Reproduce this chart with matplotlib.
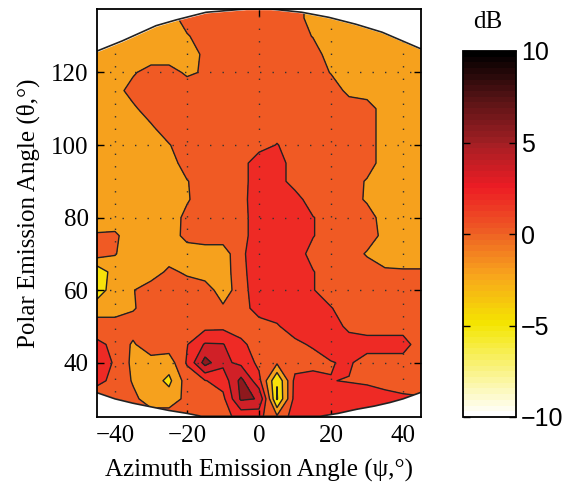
import numpy as np
import matplotlib
matplotlib.use("Agg")
import matplotlib.pyplot as plt
from matplotlib.colors import ListedColormap, LinearSegmentedColormap, Normalize
from matplotlib.cm import ScalarMappable

# grid of the measurement (degrees)
azimuth = [-45, -40, -35, -30, -25, -20, -15, -10, -5, 0, 5, 10, 15, 20, 25, 30, 35, 40, 45]
polar = [140, 135, 130, 125, 120, 115, 110, 105, 100, 95, 90, 85, 80,
         75, 70, 65, 60, 55, 50, 45, 40, 35, 30, 25]

# level in dB, one row per polar angle (top row first)
db_rows = [
    [-2, -2, -2, -2, -2, 0, 0, 0, 0, 0, 0, 0, -2, -2, -2, -2, -2, -2, -2],
    [-2, -2, -2, -2, -2, 0, 0, 0, 0, 0, 0, 0, -2, -2, -2, -2, -2, -2, -2],
    [-2, -2, -2, -2, -2, -1.2, 0, 0, 0, 0, 0, 0, -1.1, -2, -2, -2, -2, -2, -2],
    [-2, -2, -2, -2, -2, -2, -0.6, 0, 0, 0, 0, 0, 0, -2, -2, -2, -2, -2, -2],
    [-2, -1.6, -1.2, -0.3, -0.3, -1.3, -0.8, 0, 0, 0, 0, 0, 0, -1.1, -2, -2, -2, -2, -2],
    [-2, -1.6, -0.4, 0, 0, 0, 0, 0, 0, 0, 0, 0, 0, 0, -1.5, -2, -2, -2, -2],
    [-2, -2, -1.3, -0.2, 0, 0, 0, 0, 0, 0, 0, 0, 0, 0, 0, 0, -2, -2, -2],
    [-2, -2, -2, -1.2, 0, 0, 0, 0, 0, 0, 0, 0, 0, 0, 0, 0, -2, -2, -2],
    [-2, -2, -2, -2, -1.1, 0, 0, 0, 0, 0, 1.1, 0, 0, 0, 0, 0, -2, -2, -2],
    [-2, -2, -2, -2, -2, 0, 0, 0, 0, 2.5, 2, 0, 0, 0, 0, 0, -2, -2, -2],
    [-2, -2, -2, -2, -2, -1.1, 0, 0, 0, 2.5, 2, 0, 0, 0, 0, -1.2, -2, -2, -2],
    [-2, -2, -2, -2, -2, -1.2, 0, 0, 0, 2.8, 2, 2, -0.3, 0, 0, -1.3, -2, -2, -2],
    [-2, -2, -2, -2, -2, -0.5, 0, 0, 0, 2.5, 2, 2, 1.1, 0, 0, 0, -2, -2, -2],
    [-0.8, -0.7, -2, -2, -2, -0.4, 0, 0, 0, 2.5, 2, 2, 1.1, 0, 0, 0, -1.6, -2, -2],
    [0, -0.9, -2, -2, -2, -2, -2, -2, 0.5, 2.5, 2, 2, 0.3, 0, 0, -1.2, -2, -2, -2],
    [-4.5, -2, -2, -2, -0.6, -1.3, -2, -2, 0.3, 2.5, 2, 2, 1.1, 0, 0, 0, -0.7, -0.8, -0.8],
    [-4, -2, -1.1, 0, 0, 0, 0, -2, 0, 2.5, 2, 2, 1.1, 0, 0, 0, 0, 0, 0],
    [-2, -2, -1.2, 0, 0, 0, 0, -0.7, 0, 2, 2, 2, 2, 1.1, 0, 0, 0, 0, 0],
    [0, 0, 0, 0, 0, 0, 0.4, 0.5, 0, 0, 0.8, 2, 2, 2, 0.5, 0, 0, 0, 0],
    [1.4, 0.6, -1.3, 0.5, 0, 0.9, 3.2, 3.1, 1.5, 0, 0, 0.5, 1.3, 2, 2, 2, 2, 2, -0.3],
    [2, 0.8, -1.5, -2, -2, 1.2, 5.8, 3.5, 2.5, 0.5, -0.7, 0, 0, 0.9, 1.3, 0, 0, 0, 0],
    [1.4, 0.6, -1.2, -2, -3.5, 0, 0.9, 1.8, 5.6, 1.6, -4.9, 1.6, 2.2, 1.05, 0.9, 0.7, 0, 0, 0],
    [0, 0, -0.5, -2, -2, -0.5, 0, 0.5, 5.3, 4.9, -5.2, 1.8, 2, 2, 2, 2, 2, 1.4, 1.2],
    [0, 0, 0, 0, 0, 0, 0, 0.5, 1.5, 1.5, -0.6, 2, 2, 2, 2, 2, 2, 2, 2],
]

# edge of the measured region (white outside)
top_edge_x = [-45, -38, -28.6, -23, -14.7, -3.6, 3.3, 11.9, 19.4, 26.9, 34.2, 45]
top_edge_y = [125.9, 128.7, 132.9, 134.5, 136.6, 137.5, 137.5, 136.6, 135.2, 133.3, 131.1, 126.5]
bot_edge_x = [-45, -40, -35, -30, -25, -20, -16, 17, 22, 27, 32, 36.4, 40, 45]
bot_edge_y = [31.7, 30.0, 28.8, 27.8, 26.8, 26.0, 25.2, 25.2, 26.0, 27.1, 28.0, 29.0, 30.0, 31.8]

contour_levels = [-7, -5, -3, -1, 1, 3, 5, 7]
band_colors = ['#FAEE55', '#F8E10A', '#F6A11D', '#F05A24', '#EE2A25', '#D02027', '#8E191D']

cbar_ticks = [-10, -5, 0, 5, 10]

plt.rcParams['font.family'] = ['Liberation Serif', 'DejaVu Serif']

X, Y = np.meshgrid(azimuth, polar)
Z = np.array(db_rows, dtype=float)

fig = plt.figure(figsize=(5.71, 4.87), dpi=100)
ax = fig.add_axes([97 / 571, 1 - 417 / 487, 324 / 571, 408 / 487])

ax.contourf(X, Y, Z, levels=contour_levels, colors=band_colors)
ax.contour(X, Y, Z, levels=contour_levels[1:-1], colors='#222222',
           linewidths=1.0, linestyles='solid')

# mask outside the measured region
ax.fill_between(top_edge_x, top_edge_y, 140, color='white', zorder=3)
ax.fill_between(bot_edge_x, bot_edge_y, 20, color='white', zorder=3)
ax.plot(top_edge_x, top_edge_y, color='#222222', lw=1.2, zorder=4)
ax.plot(bot_edge_x, bot_edge_y, color='#222222', lw=1.2, zorder=4)

ax.set_xlim(-45, 45)
ax.set_ylim(25, 137.5)
ax.set_xticks([-40, -20, 0, 20, 40])
ax.set_yticks([40, 60, 80, 100, 120])
ax.tick_params(direction='in', top=True, right=True, length=5, width=1, labelsize=18, pad=6)
ax.grid(True, color='#333333', linestyle=(0, (1, 8)), linewidth=1.0, zorder=5)
ax.set_axisbelow(False)
for s in ax.spines.values():
    s.set_linewidth(1.3)
    s.set_zorder(6)

ax.set_xlabel('Azimuth Emission Angle (ψ,°)', fontsize=18, labelpad=8)
ax.set_ylabel('Polar Emission Angle (θ,°)', fontsize=18, labelpad=8)

# colorbar with a stepped hot-like map
anchors = [(0.0, '#FFFFFF'), (0.25, '#F4E600'), (0.385, '#F8A51C'), (0.5, '#EE6124'),
           (0.63, '#ED1C24'), (0.75, '#A41F24'), (0.87, '#5A1416'), (1.0, '#000000')]
smooth = LinearSegmentedColormap.from_list('dbmap', anchors)
cmap64 = ListedColormap(smooth(np.linspace(0, 1, 64)))

cax = fig.add_axes([463 / 571, 1 - 417 / 487, 53 / 571, 366 / 487])
cb = fig.colorbar(ScalarMappable(norm=Normalize(-10, 10), cmap=cmap64), cax=cax, ticks=cbar_ticks)
cb.outline.set_linewidth(1.3)
cax.tick_params(direction='in', left=True, right=True, length=5, width=1, labelsize=18)
for lab in cax.get_yticklabels():
    lab.set_family(['Liberation Sans', 'DejaVu Sans'])
fig.text(488 / 571, 1 - 22 / 487, 'dB', ha='center', va='center', fontsize=18)

fig.savefig('out.png', dpi=100)
